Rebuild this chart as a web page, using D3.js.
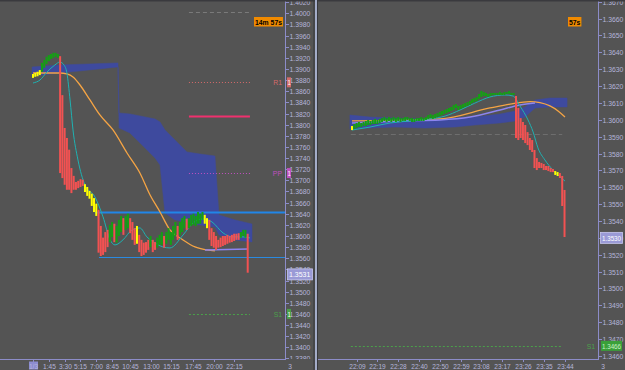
<!DOCTYPE html>
<html><head><meta charset="utf-8">
<script src="https://cdn.jsdelivr.net/npm/d3@7"></script>
<style>body{margin:0;background:#545454;} svg{display:block;}</style>
</head><body><svg id="c" width="625" height="370"></svg>
<script>
// ---------------- DATA ----------------
// Left panel: 15-minute bars, 3 Jan
const leftTickBars   = [0,7,14,21,28,35,43,52,61,71,80,89];
const leftTickLabels = ["1/3","1:45","3:30","5:15","7:00","8:45","10:45","13:00","15:15","17:45","20:00","22:15"];
const leftHi = [1.3891,1.3893,1.3895,1.3898,1.3911,1.3916,1.3922,1.3925,1.3927,1.3929,1.3929,1.3927,
  1.3923,1.3853,1.3794,1.3776,1.3755,1.3722,1.3708,1.3697,1.3699,1.3702,1.3701,
  1.3693,1.3688,1.3681,1.3676,1.3668,1.3658,
  1.3647,1.3618,1.3597,1.3607,1.3611,
  1.3620,1.3625,1.3622,1.3618,1.3629,1.3636,1.3632,1.3636,1.3640,1.3632,1.3625,1.3614,
  1.3618,1.3602,1.3593,1.3588,1.3589,1.3593,1.3600,1.3593,1.3589,1.3597,1.3602,1.3607,
  1.3600,1.3607,1.3614,1.3607,1.3618,1.3625,1.3618,1.3625,1.3632,1.3636,1.3631,1.3632,
  1.3638,1.3640,1.3636,1.3643,1.3640,1.3643,1.3638,1.3632,1.3629,1.3614,1.3607,1.3600,
  1.3593,1.3597,1.3600,1.3600,1.3602,1.3600,1.3602,1.3604,1.3604,1.3605,1.3607,1.3611,1.3611,1.3604];
const leftLo = [1.3884,1.3886,1.3887,1.3889,1.3895,1.3902,1.3909,1.3914,1.3918,1.3920,1.3922,1.3920,
  1.3713,1.3704,1.3692,1.3683,1.3683,1.3677,1.3683,1.3683,1.3686,1.3688,1.3690,
  1.3679,1.3672,1.3667,1.3654,1.3643,1.3636,
  1.3570,1.3564,1.3566,1.3571,1.3580,
  1.3589,1.3598,1.3589,1.3588,1.3600,1.3607,1.3602,1.3611,1.3614,1.3605,1.3593,1.3584,
  1.3586,1.3571,1.3564,1.3566,1.3570,1.3575,1.3580,1.3571,1.3575,1.3579,1.3584,1.3584,
  1.3579,1.3586,1.3593,1.3584,1.3593,1.3600,1.3593,1.3602,1.3607,1.3614,1.3611,1.3614,
  1.3618,1.3620,1.3618,1.3622,1.3622,1.3629,1.3622,1.3614,1.3593,1.3582,1.3579,1.3575,
  1.3579,1.3580,1.3582,1.3584,1.3586,1.3588,1.3589,1.3591,1.3593,1.3593,1.3597,1.3600,1.3597,1.3534];
const leftColors = ("YYYY"+"GGGGGGGG"+"RRRRRRRRRRR"+"YYYYYY"+"RRRRR"+"GGRGGGRGGRRR"+
  "YRRRRRGRRGGG"+"RGGGGGRGGGRG"+"GGGGGGYYRRRR"+"RRRRRRRRRRGGGR").split("");
const leftCyan = [[0,1.38748],[3.1,1.38802],[6.2,1.38946],[9.7,1.39072],[11.9,1.39125],[13.7,1.39072],
  [15.0,1.38928],[16.4,1.38443],[17.7,1.37904],[19.9,1.37365],[23.0,1.36916],[27.4,1.36701],[31.0,1.36342],
  [34.1,1.35929],[36.3,1.35839],[39.8,1.35929],[43.8,1.36108],[47.3,1.36144],[50.4,1.35983],[54.0,1.35875],
  [57.5,1.35803],[60.6,1.35785],[66.4,1.36018],[70.8,1.36234],[75.2,1.36306],[79.2,1.36252],[84.1,1.36054],
  [88.5,1.35983],[92.9,1.35983],[96.0,1.35965]];
const leftOrange = [[0,1.38928],[11.9,1.38928],[15.0,1.38910],[17.7,1.38856],[20.8,1.38712],[25.2,1.38443],
  [29.6,1.38174],[35.4,1.37904],[41.6,1.37491],[47.3,1.37132],[51.8,1.36737],[56.2,1.36431],[60.6,1.36108],
  [66.4,1.35929],[71.7,1.35803],[77.0,1.35749],[80.5,1.35731]];
const leftPurple = [[76.1,1.35749],[95.1,1.35767]];
const leftCloud = [[-0.4,1.39036,1.38874],[11.9,1.39072,1.38928],[37.6,1.39108,1.39036],[38.1,1.38210,1.37940],
  [42.9,1.38192,1.37850],[49.6,1.38138,1.37581],[54.0,1.38102,1.37401],[56.2,1.38048,1.37276],
  [58.4,1.37904,1.36414],[62.8,1.37725,1.36288],[68.1,1.37509,1.36252],[73.9,1.37473,1.36198],
  [80.5,1.37437,1.36162],[82.3,1.36378,1.36018],[89.4,1.36288,1.35929],[96.9,1.36216,1.35893]];
const leftLevels = [
  {name:"",   price:1.4002, from:69, to:96, color:"#7a7a7a", dash:"4,3", w:1},
  {name:"R1", price:1.3876, from:69, to:96, color:"#d46a6a", dash:"1,2", w:1},
  {name:"",   price:1.3815, from:69, to:96, color:"#f0306e", dash:null,  w:2},
  {name:"PP", price:1.3713, from:69, to:96, color:"#c050c0", dash:"1,2", w:1},
  {name:"",   price:1.3643, from:27.4, to:120, color:"#2186e8", dash:null, w:2},
  {name:"",   price:1.3562, from:29.2, to:120, color:"#2a8ae0", dash:null, w:1},
  {name:"S1", price:1.3460, from:69, to:96, color:"#4aa04a", dash:"2,2", w:1}
];
const leftLast = 1.3531;
const leftTimer = "14m 57s";

// Right panel: 1-minute bars
const rightTickBars   = [2,11,20,29,38,47,56,65,74,83,92];
const rightTickLabels = ["22:09","22:19","22:28","22:40","22:50","22:59","23:08","23:17","23:26","23:35","23:44"];
const rightHi = [1.35963,1.35975,1.35981,1.35987,1.35981,1.35987,1.35993,1.35999,1.35993,1.35999,
  1.36005,1.35999,1.36005,1.36010,1.36016,1.36010,1.36016,1.36010,1.36016,1.36010,
  1.36016,1.36010,1.36010,1.36016,1.36016,1.36010,1.36010,1.36005,1.36010,1.36010,
  1.36016,1.36010,1.36016,1.36028,1.36034,1.36028,1.36034,1.36040,1.36046,1.36052,
  1.36058,1.36064,1.36070,1.36076,1.36088,1.36093,1.36082,1.36088,1.36093,1.36099,
  1.36105,1.36111,1.36123,1.36129,1.36135,1.36153,1.36171,1.36165,1.36159,1.36153,
  1.36159,1.36159,1.36159,1.36159,1.36165,1.36159,1.36165,1.36165,1.36171,1.36159,
  1.36159,1.36141,1.36070,1.36010,1.35987,1.35969,1.35927,1.35892,1.35880,1.35821,
  1.35773,1.35750,1.35744,1.35738,1.35726,1.35726,1.35714,1.35708,1.35696,1.35690,
  1.35684,1.35667,1.35584];
const rightLo = [1.35939,1.35945,1.35951,1.35957,1.35957,1.35963,1.35963,1.35969,1.35969,1.35975,
  1.35975,1.35975,1.35981,1.35987,1.35993,1.35987,1.35993,1.35987,1.35993,1.35987,
  1.35993,1.35987,1.35993,1.35993,1.35999,1.35993,1.35987,1.35987,1.35993,1.35993,
  1.35993,1.35993,1.35999,1.36005,1.36010,1.36005,1.36010,1.36016,1.36022,1.36028,
  1.36034,1.36040,1.36046,1.36052,1.36058,1.36070,1.36058,1.36064,1.36070,1.36076,
  1.36082,1.36088,1.36099,1.36105,1.36111,1.36123,1.36135,1.36141,1.36141,1.36135,
  1.36141,1.36147,1.36147,1.36147,1.36147,1.36147,1.36147,1.36153,1.36153,1.36147,
  1.36147,1.35892,1.35880,1.35892,1.35880,1.35862,1.35850,1.35821,1.35809,1.35714,
  1.35702,1.35714,1.35714,1.35702,1.35702,1.35696,1.35690,1.35690,1.35673,1.35667,
  1.35655,1.35489,1.35305];
const rightColors = ("Y"+"G".repeat(70)+"R".repeat(17)+"YY"+"RRR").split("");
const rightCyan = [[0,1.35939],[7.8,1.35957],[16.5,1.35981],[25.1,1.35993],[33.8,1.36005],[40.3,1.36022],
  [46.8,1.36058],[53.2,1.36099],[59.7,1.36135],[66.2,1.36147],[69.7,1.36141],[72.7,1.36082],[76.2,1.35999],
  [78.4,1.35928],[80.5,1.35833],[83.5,1.35762],[87,1.35702],[92.2,1.35637]];
const rightOrange = [[0,1.35993],[38.1,1.36005],[59.7,1.36070],[68.4,1.36093],[77.1,1.36108],[81.4,1.36102],
  [85.7,1.36082],[89.2,1.36052],[92.2,1.36016]];
const rightPurple = [[0,1.35981],[20.8,1.35993],[38.1,1.35999],[51.1,1.36016],[64.1,1.36058],[72.7,1.36088],[79.2,1.36099]];
const rightCloud = [[-0.9,1.36028,1.35945],[7.8,1.36016,1.35951],[18.6,1.36010,1.35957],[31.6,1.36005,1.35951],
  [44.6,1.36010,1.35957],[53.2,1.36016,1.35969],[64.1,1.36034,1.35981],[70.6,1.36052,1.35993],
  [74.9,1.36076,1.36016],[79.2,1.36117,1.36070],[85.7,1.36129,1.36076],[93.1,1.36129,1.36076]];
const rightLevels = [
  {name:"",   price:1.35914, from:-0.5, to:91, color:"#6e6e6e", dash:"5,3", w:1},
  {name:"S1", price:1.3466,  from:-0.5, to:91, color:"#4aa04a", dash:"2,2", w:1}
];
const rightLast = 1.3530;
const rightTimer = "57s";

// ---------------- DRAW ----------------
const W = 625, H = 370, AX = 359;
const svg = d3.select("#c");
svg.append("rect").attr("width",W).attr("height",H).attr("fill","#545454");
const colorMap = {G:"#14a014", R:"#f25252", Y:"#ffff00"};
const FONT = "'Liberation Sans', Arial, sans-serif";
const txtCol = "#b4b4da", axCol = "#8c8cc8";

function txt(parent, x, y, s, opt){
  opt = opt || {};
  const t = parent.append("text").attr("x",x).attr("y",y).text(s)
    .attr("font-family",FONT).attr("font-size",opt.fs||7.6).attr("fill",opt.fill||txtCol);
  if(opt.bold) t.attr("font-weight","bold");
  const k = opt.k||0.85;
  const w = t.node().getComputedTextLength()*k;
  t.attr("textLength",w).attr("lengthAdjust","spacingAndGlyphs");
  if(opt.anchor==="middle") t.attr("x",x-w/2);
  if(opt.anchor==="end") t.attr("x",x-w);
  return t;
}

function panel(o){
  const x = d3.scaleLinear().domain([0,100]).range(o.xr);
  const y = d3.scaleLinear().domain(o.yd).range([AX,0]);
  const id = "clip"+o.key;
  svg.append("clipPath").attr("id",id).append("rect")
     .attr("x",o.left).attr("y",0).attr("width",o.axisX-o.left).attr("height",AX);
  const g = svg.append("g").attr("clip-path","url(#"+id+")");
  g.append("path").datum(o.cloud)
    .attr("d", d3.area().x(d=>x(d[0])).y0(d=>y(d[2])).y1(d=>y(d[1])))
    .attr("fill","#3e4a9e").attr("stroke","#3e4a9e").attr("stroke-width",0.5);
  o.levels.forEach(l=>{
    g.append("line").attr("x1",x(l.from)).attr("x2",x(l.to))
     .attr("y1",Math.round(y(l.price))+0.5).attr("y2",Math.round(y(l.price))+0.5)
     .attr("stroke",l.color).attr("stroke-width",l.w)
     .attr("stroke-dasharray",l.dash);
  });
  const line = d3.line().x(d=>x(d[0])).y(d=>y(d[1])).curve(d3.curveMonotoneX);
  g.append("path").datum(o.orange).attr("d",line).attr("fill","none").attr("stroke","#f5a444").attr("stroke-width",1.3);
  g.append("path").datum(o.purple).attr("d",line).attr("fill","none").attr("stroke","#8c84f0").attr("stroke-width",1.5);
  g.append("path").datum(o.cyan).attr("d",line).attr("fill","none").attr("stroke","#1fb2b2").attr("stroke-width",1);
  g.selectAll("rect.c").data(o.hi).enter().append("rect").attr("class","c")
    .attr("x",(d,i)=>x(i)-1).attr("width",2)
    .attr("y",d=>y(d)).attr("height",(d,i)=>Math.max(1.5,y(o.lo[i])-y(d)))
    .attr("fill",(d,i)=>colorMap[o.colors[i]]);

  // y axis
  svg.append("line").attr("x1",o.axisX+0.5).attr("x2",o.axisX+0.5).attr("y1",0).attr("y2",AX).attr("stroke",axCol);
  const yclip = "yc"+o.key;
  svg.append("clipPath").attr("id",yclip).append("rect").attr("x",o.axisX).attr("y",0).attr("width",40).attr("height",AX);
  const tg = svg.append("g").attr("clip-path","url(#"+yclip+")");
  o.yticks.forEach(v=>{
    const yy = Math.round(y(v))+0.5;
    tg.append("line").attr("x1",o.axisX).attr("x2",o.axisX+4).attr("y1",yy).attr("y2",yy).attr("stroke",axCol);
    txt(tg, o.axisX+4.5, yy+2.8, d3.format(".4f")(v), {k:0.9});
  });
  o.levels.filter(l=>l.name).forEach(l=>{
    const yy = y(l.price);
    txt(svg, o.axisX-3, yy+3, l.name, {anchor:"end", fill:l.color, k:0.9});
    if(o.key==="L"){
      svg.append("rect").attr("x",o.axisX+2).attr("y",yy-5).attr("width",4).attr("height",10).attr("fill",l.color);
      txt(svg, o.axisX+2.6, yy+3, "1", {fill:"#ffffff", fs:7});
    } else {
      svg.append("rect").attr("x",o.axisX+3).attr("y",yy-5).attr("width",21).attr("height",10).attr("fill","#3aa03a");
      txt(svg, o.axisX+4, yy+3, d3.format(".4f")(l.price), {fill:"#c8f0c8", k:0.82});
    }
  });
  const ly = y(o.last);
  svg.append("rect").attr("x",o.axisX+2.5).attr("y",ly-5.5).attr("width",o.key==="L"?25:22).attr("height",11)
     .attr("fill","#9a9ad6").attr("stroke","#c8c8f0").attr("stroke-width",0.8);
  txt(svg, o.axisX+4, ly+3, d3.format(".4f")(o.last), {fill:"#ffffff", k:o.key==="L"?0.92:0.82});
  const tb = txt(svg, o.timerX, 24.5, o.timer, {fill:"#000", bold:true, k:0.9});
  const bb = tb.node().getBBox();
  svg.insert("rect", function(){return tb.node();}).attr("x",bb.x-1).attr("y",17).attr("width",bb.width+2).attr("height",9.5).attr("fill","#f08a00");

  // x axis
  svg.append("line").attr("x1",o.left).attr("x2",o.axisX+1).attr("y1",AX+0.5).attr("y2",AX+0.5).attr("stroke",axCol);
  o.xticks.forEach((b,i)=>{
    const xx = Math.round(x(b))+0.5;
    svg.append("line").attr("x1",xx).attr("x2",xx).attr("y1",AX).attr("y2",AX+3).attr("stroke",axCol);
    if(i===0 && o.key==="L"){
      svg.append("rect").attr("x",xx-4.5).attr("y",361.5).attr("width",9).attr("height",8).attr("fill","#8c8cd0");
    }
    txt(svg, xx, 368.5, o.xlabels[i], {anchor:"middle", fs:7.8, k:0.84});
  });
  txt(svg, o.axisX+5, 368.5, "3", {anchor:"middle", fs:7.8});
}

panel({key:"L", left:0, axisX:285, xr:[33,259], yd:[1.3379,1.40239],
  hi:leftHi, lo:leftLo, colors:leftColors, cyan:leftCyan, orange:leftOrange, purple:leftPurple,
  cloud:leftCloud, levels:leftLevels, last:leftLast, timer:leftTimer, timerX:255,
  yticks:d3.range(1.3380,1.40221,0.002), xticks:leftTickBars, xlabels:leftTickLabels});
panel({key:"R", left:318, axisX:598, xr:[352,583], yd:[1.34582,1.36710],
  hi:rightHi, lo:rightLo, colors:rightColors, cyan:rightCyan, orange:rightOrange, purple:rightPurple,
  cloud:rightCloud, levels:rightLevels, last:rightLast, timer:rightTimer, timerX:569,
  yticks:d3.range(1.3460,1.36705,0.001), xticks:rightTickBars, xlabels:rightTickLabels});

svg.append("rect").attr("x",0).attr("y",0).attr("width",W).attr("height",1.5).attr("fill","#3a3a3e");
svg.append("rect").attr("x",313.5).attr("y",0).attr("width",1).attr("height",H).attr("fill","#38383c");
svg.append("rect").attr("x",315).attr("y",0).attr("width",2).attr("height",H).attr("fill","#a4acc8");
svg.append("rect").attr("x",317).attr("y",0).attr("width",1).attr("height",H).attr("fill","#38383c");
</script></body></html>
